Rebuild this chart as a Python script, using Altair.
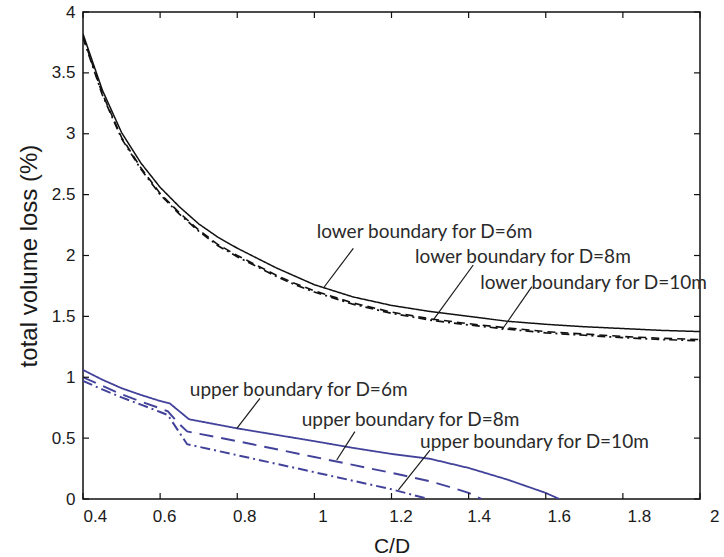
import altair as alt
import pandas as pd

# ---------------- data ----------------
lower_x = [0.4, 0.45, 0.5, 0.55, 0.6, 0.65, 0.7, 0.75, 0.8, 0.85, 0.9, 0.95, 1.0,
           1.1, 1.2, 1.3, 1.4, 1.5, 1.6, 1.7, 1.8, 1.9, 2.0]
lower_6 = [3.82, 3.36, 3.01, 2.76, 2.56, 2.40, 2.26, 2.15, 2.06, 1.98, 1.90, 1.83, 1.76,
           1.66, 1.59, 1.54, 1.50, 1.46, 1.435, 1.415, 1.40, 1.385, 1.375]
lower_8 = [3.80, 3.33, 2.97, 2.72, 2.51, 2.35, 2.21, 2.09, 2.00, 1.92, 1.84, 1.77, 1.71,
           1.61, 1.535, 1.48, 1.44, 1.405, 1.375, 1.355, 1.335, 1.32, 1.31]
lower_10 = [3.79, 3.32, 2.96, 2.71, 2.50, 2.34, 2.20, 2.08, 1.99, 1.91, 1.83, 1.76, 1.70,
            1.60, 1.525, 1.47, 1.43, 1.395, 1.365, 1.345, 1.325, 1.31, 1.30]

upper6_x = [0.4, 0.45, 0.5, 0.55, 0.6, 0.625, 0.65, 0.675, 0.8, 1.0, 1.1, 1.2, 1.3, 1.4, 1.5, 1.6, 1.635]
upper6_y = [1.06, 0.98, 0.91, 0.855, 0.805, 0.785, 0.72, 0.655, 0.58, 0.475, 0.42, 0.37, 0.33, 0.255, 0.16, 0.05, 0.0]
upper8_x = [0.4, 0.45, 0.5, 0.55, 0.6, 0.62, 0.645, 0.67, 0.8, 1.0, 1.1, 1.2, 1.3, 1.35, 1.4, 1.434]
upper8_y = [1.00, 0.93, 0.86, 0.80, 0.745, 0.72, 0.63, 0.555, 0.475, 0.345, 0.28, 0.215, 0.145, 0.10, 0.05, 0.0]
upper10_x = [0.4, 0.45, 0.5, 0.55, 0.6, 0.62, 0.645, 0.67, 0.8, 1.0, 1.1, 1.2, 1.296]
upper10_y = [0.97, 0.90, 0.835, 0.775, 0.715, 0.69, 0.57, 0.45, 0.36, 0.22, 0.15, 0.08, 0.0]

series_names = ["lower D=6m", "lower D=8m", "lower D=10m",
                "upper D=6m", "upper D=8m", "upper D=10m"]

# annotations: label, text anchor (x, y), pointer start (x, y), pointer end (x, y)
ann_labels = ["lower boundary for D=6m", "lower boundary for D=8m", "lower boundary for D=10m",
              "upper boundary for D=6m", "upper boundary for D=8m", "upper boundary for D=10m"]
ann_tx = [1.006, 1.261, 1.430, 0.677, 0.967, 1.274]
ann_ty = [2.195, 1.990, 1.772, 0.895, 0.649, 0.471]
ptr_x1 = [1.101, 1.412, 1.564, 0.859, 1.105, 1.300]
ptr_y1 = [2.059, 1.922, 1.744, 0.827, 0.553, 0.402]
ptr_x2 = [1.023, 1.308, 1.486, 0.799, 1.058, 1.218]
ptr_y2 = [1.731, 1.470, 1.388, 0.581, 0.320, 0.074]

x_ticks = [0.4, 0.6, 0.8, 1.0, 1.2, 1.4, 1.6, 1.8, 2.0]
y_ticks = [0, 0.5, 1, 1.5, 2, 2.5, 3, 3.5, 4]

# ---------------- tables ----------------
rows = []
for name, xs, ys in [
    (series_names[0], lower_x, lower_6),
    (series_names[1], lower_x, lower_8),
    (series_names[2], lower_x, lower_10),
    (series_names[3], upper6_x, upper6_y),
    (series_names[4], upper8_x, upper8_y),
    (series_names[5], upper10_x, upper10_y),
]:
    for i, (xv, yv) in enumerate(zip(xs, ys)):
        rows.append({"series": name, "x": xv, "y": yv, "order": i})
df = pd.DataFrame(rows)

ann = pd.DataFrame({"label": ann_labels, "tx": ann_tx, "ty": ann_ty,
                    "x": ptr_x1, "y": ptr_y1, "x2": ptr_x2, "y2": ptr_y2})
xt = pd.DataFrame({"x": x_ticks})
yt = pd.DataFrame({"y": y_ticks})

W, H = 617, 487
BLUE = "#42429a"
xscale = alt.Scale(domain=[0.4, 2.0], nice=False, zero=False)
yscale = alt.Scale(domain=[0, 4], nice=False, zero=False)

# the reference's x tick labels drift slightly to the right towards the end of the axis
x_label_offset = {
    "condition": [
        {"test": "datum.value > 1.9", "value": 19},
        {"test": "datum.value > 1.7", "value": 16},
        {"test": "datum.value > 1.5", "value": 13},
        {"test": "datum.value > 1.3", "value": 10},
        {"test": "datum.value > 1.1", "value": 9},
        {"test": "datum.value > 0.9", "value": 8},
        {"test": "datum.value > 0.7", "value": 7},
        {"test": "datum.value > 0.5", "value": 4},
    ],
    "value": 0,
}

xaxis = alt.Axis(values=x_ticks, format="~g", title="C/D", ticks=False, tickSize=0,
                 domain=False, grid=False, labelPadding=9, labelFontSize=17,
                 labelFont="Liberation Sans", labelColor="#1a1a1a",
                 labelOffset=x_label_offset,
                 titleFont="Liberation Sans", titleFontSize=21, titleFontWeight="normal",
                 titleColor="#1a1a1a", titleX=W / 2, titleY=47, titleBaseline="middle",
                 titleAlign="center")
yaxis = alt.Axis(values=y_ticks, format="~g", title="total volume loss (%)", ticks=False,
                 tickSize=0, domain=False, grid=False, labelPadding=8, labelFontSize=17,
                 labelFont="Liberation Sans", labelColor="#1a1a1a",
                 titleFont="Liberation Sans", titleFontSize=24, titleFontWeight="normal",
                 titleColor="#1a1a1a", titleX=-54, titleY=H / 2, titleAngle=270,
                 titleBaseline="middle", titleAlign="center")


def X(field):
    return alt.X(field, scale=xscale, axis=xaxis)


def Y(field):
    return alt.Y(field, scale=yscale, axis=yaxis)


lines = alt.Chart(df).mark_line(clip=True).encode(
    x=X("x:Q"),
    y=Y("y:Q"),
    color=alt.Color("series:N", legend=None,
                    scale=alt.Scale(domain=series_names,
                                    range=["#111111", "#111111", "#111111", BLUE, BLUE, BLUE])),
    strokeDash=alt.StrokeDash("series:N", legend=None,
                              scale=alt.Scale(domain=series_names,
                                              range=[[1, 0], [8, 5], [8, 4, 2, 4],
                                                     [1, 0], [14, 8], [10, 4, 2, 4]])),
    strokeWidth=alt.StrokeWidth("series:N", legend=None,
                                scale=alt.Scale(domain=series_names,
                                                range=[1.5, 2.0, 1.6, 1.4, 1.4, 1.4])),
    order="order:Q",
    detail="series:N",
)

pointers = alt.Chart(ann).mark_rule(color="#1a1a1a", strokeWidth=1.2).encode(
    x=X("x:Q"),
    y=Y("y:Q"),
    x2="x2:Q",
    y2="y2:Q",
)

texts = alt.Chart(ann).mark_text(align="left", baseline="middle", font="Lato", fontSize=19,
                                 color="#2a2a2a").encode(
    x=X("tx:Q"),
    y=Y("ty:Q"),
    text="label:N",
)

TL = 6
tick_style = dict(color="#111111", strokeWidth=1.2)
bottom_ticks = alt.Chart(xt).mark_rule(**tick_style).encode(
    x=X("x:Q"), y=alt.value(H), y2=alt.value(H - TL))
top_ticks = alt.Chart(xt).mark_rule(**tick_style).encode(
    x=X("x:Q"), y=alt.value(0), y2=alt.value(TL))
left_ticks = alt.Chart(yt).mark_rule(**tick_style).encode(
    y=Y("y:Q"), x=alt.value(0), x2=alt.value(TL))
right_ticks = alt.Chart(yt).mark_rule(**tick_style).encode(
    y=Y("y:Q"), x=alt.value(W), x2=alt.value(W - TL))

chart = alt.layer(lines, pointers, texts, bottom_ticks, top_ticks, left_ticks, right_ticks).properties(
    width=W, height=H,
    padding={"left": 83, "top": 12, "right": 24, "bottom": 58},
    autosize=alt.AutoSizeParams(type="none"),
    background="white",
).configure_view(stroke="#111111", strokeWidth=1.5)

chart.save("out.html", embed_options={"renderer": "svg", "actions": False})
